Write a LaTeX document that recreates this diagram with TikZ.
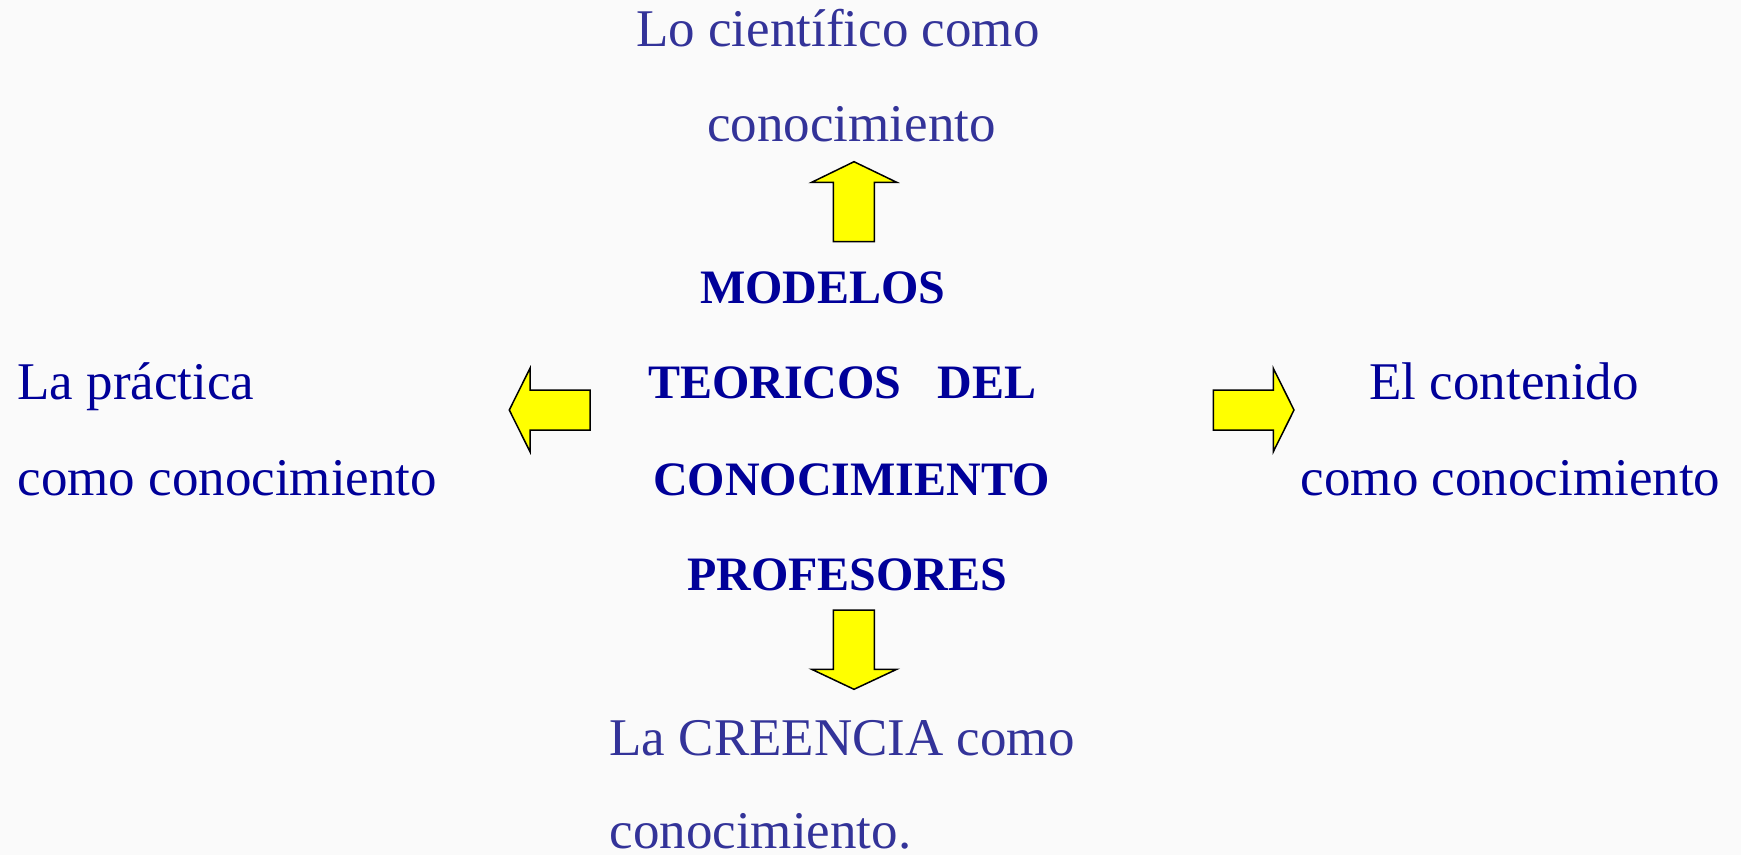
\documentclass[tikz,border=0pt]{standalone}
\usepackage{fontspec}
\setmainfont{Liberation Serif}
\definecolor{txtA}{HTML}{333399}
\definecolor{txtB}{HTML}{000099}
\definecolor{arrowfill}{HTML}{FFFF00}
\definecolor{bgc}{HTML}{FAFAFA}
\tikzset{
  lbl/.style={anchor=base west, inner sep=0pt, font=\fontsize{53}{60}\selectfont},
  lblA/.style={lbl, text=txtA},
  lblB/.style={lbl, text=txtB},
  boldlbl/.style={anchor=base west, inner sep=0pt, text=txtB, font=\fontsize{48}{56}\selectfont\bfseries},
  blockarrow/.style={fill=arrowfill, draw=black, line width=1.5pt, line join=miter}
}
\begin{document}
\begin{tikzpicture}[x=1pt,y=-1pt]
\fill[bgc] (0,0) rectangle (1741,855);
\useasboundingbox (0,0) rectangle (1741,855);
% top
\node[lblA] (t1) at (636,46.7) {Lo científico como};
\node[lblA] (t2) at (707,141.7) {conocimiento};
% centre
\node[boldlbl] (c1) at (700,303.3) {MODELOS};
\node[boldlbl] (c2) at (648,398.3) {TEORICOS\hspace{0.5em} DEL};
\node[boldlbl] (c3) at (653,495) {CONOCIMIENTO};
\node[boldlbl] (c4) at (687,590) {PROFESORES};
% left
\node[lblB] (l1) at (17.3,399.3) {La práctica};
\node[lblB] (l2) at (17.3,495) {como conocimiento};
% right
\node[lblB] (r1) at (1369.3,399.3) {El contenido};
\node[lblB] (r2) at (1300.7,495) {como conocimiento};
% bottom
\node[lblA] (b1) at (609.3,755) {La CREENCIA como};
\node[lblA] (b2) at (609.3,848.3) {conocimiento.};
% arrows
\draw[blockarrow] (854,161.7) -- (896.7,182.3) -- (874.3,182.3) -- (874.3,241.7) -- (833.3,241.7) -- (833.3,182.3) -- (811.7,182.3) -- cycle;
\draw[blockarrow] (854,689.3) -- (896.7,669.3) -- (874.3,669.3) -- (874.3,610) -- (833.3,610) -- (833.3,669.3) -- (811.7,669.3) -- cycle;
\draw[blockarrow] (509.3,410) -- (530,368.3) -- (530,390) -- (590,390) -- (590,430) -- (530,430) -- (530,451.7) -- cycle;
\draw[blockarrow] (1294,410) -- (1273.3,368.3) -- (1273.3,390) -- (1213.3,390) -- (1213.3,430) -- (1273.3,430) -- (1273.3,451.7) -- cycle;
\end{tikzpicture}
\end{document}
